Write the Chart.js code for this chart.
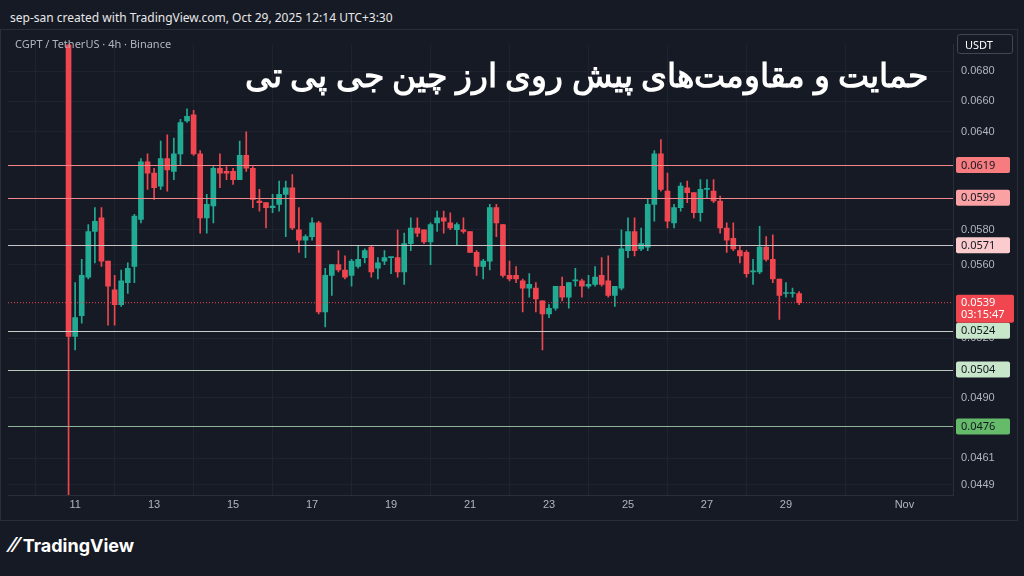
<!DOCTYPE html>
<html><head><meta charset="utf-8">
<script src="https://cdn.jsdelivr.net/npm/chart.js@4"></script>
<style>
html,body{margin:0;padding:0;background:#161a25;width:1024px;height:576px;overflow:hidden;font-family:"Noto Sans",Roboto,sans-serif}
#hdr{position:absolute;left:10px;top:9px;color:#e8e8e8;font-size:12px}
#frame{position:absolute;left:0;top:29px;width:1018px;height:492px;border:1px solid #2a2e39;box-sizing:border-box}
#wrap{position:absolute;left:0;top:30px;width:1018px;height:490px}
#sym{position:absolute;left:15px;top:36px;color:#b2b5be;font-size:11px}
#title{position:absolute;right:96px;top:52px;color:#fff;font-size:32.5px;font-weight:600;font-family:"Noto Sans",sans-serif;direction:rtl;white-space:nowrap}
#usdt{position:absolute;left:957px;top:34px;width:56px;height:20px;border:1px solid #434651;border-radius:3px;color:#fff;font-size:11px;line-height:20px;text-align:left;padding-left:7px;box-sizing:border-box}
#logo{position:absolute;left:10px;top:533px;color:#fff;font-size:18px;font-weight:bold;font-family:Inter,sans-serif}
</style></head><body>
<div id="hdr">sep-san created with TradingView.com, Oct 29, 2025 12:14 UTC+3:30</div>
<div id="frame"></div>
<div id="wrap"><canvas id="c"></canvas></div>
<div id="sym">CGPT / TetherUS · 4h · Binance</div>
<div id="title">حمایت و مقاومت‌های پیش روی ارز چین جی پی تی</div>
<div id="usdt">USDT</div>
<div id="logo"><span style="font-size:20px">⁄⁄</span> TradingView</div>
<script>
const startDay = 10.8333;
const opens=[.0720,.0521,.0532,.0553,.0579,.0587,.0562,.0546,.0538,.0550,.0559,.0586,.0621,.0614,.0606,.0623,.0615,.0626,.0647,.0651,.0626,.0587,.0594,.0617,.0615,.0615,.0610,.0625,.0617,.0597,.0596,.0593,.0595,.0601,.0605,.0580,.0574,.0576,.0584,.0534,.0554,.0560,.0557,.0554,.0559,.0564,.0570,.0558,.0562,.0564,.0564,.0556,.0572,.0581,.0580,.0573,.0584,.0587,.0584,.0580,.0580,.0579,.0567,.0559,.0562,.0593,.0583,.0554,.0554,.0551,.0547,.0547,.0540,.0533,.0536,.0548,.0542,.0551,.0551,.0548,.0549,.0554,.0551,.0543,.0547,.0568,.0579,.0569,.0570,.0595,.0626,.0603,.0584,.0593,.0605,.0602,.0590,.0604,.0603,.0597,.0581,.0575,.0568,.0567,.0556,.0556,.0570,.0563,.0552,.0544,.0544,.0544];
const highs=[.0760,.0550,.0563,.0583,.0593,.0593,.0562,.0554,.0557,.0561,.0589,.0623,.0626,.0617,.0634,.0638,.0636,.0648,.0655,.0654,.0628,.0601,.0618,.0626,.0618,.0617,.0634,.0640,.0618,.0604,.0596,.0601,.0609,.0609,.0613,.0593,.0577,.0587,.0585,.0558,.0560,.0568,.0565,.0563,.0571,.0569,.0571,.0564,.0568,.0564,.0580,.0578,.0587,.0587,.0580,.0584,.0591,.0591,.0590,.0584,.0587,.0579,.0568,.0563,.0595,.0595,.0583,.0562,.0559,.0552,.0555,.0550,.0540,.0538,.0548,.0553,.0550,.0558,.0552,.0554,.0559,.0564,.0565,.0548,.0580,.0587,.0587,.0581,.0598,.0628,.0635,.0614,.0595,.0608,.0609,.0602,.0610,.0610,.0610,.0600,.0584,.0584,.0571,.0568,.0563,.0582,.0576,.0577,.0552,.0550,.0547,.0545];
const lows=[.0430,.0514,.0528,.0552,.0561,.0559,.0527,.0527,.0537,.0544,.0550,.0584,.0604,.0598,.0604,.0603,.0610,.0619,.0646,.0625,.0578,.0578,.0584,.0605,.0610,.0607,.0610,.0615,.0593,.0591,.0581,.0590,.0591,.0576,.0580,.0567,.0564,.0574,.0533,.0526,.0543,.0556,.0552,.0548,.0558,.0561,.0553,.0552,.0560,.0555,.0553,.0549,.0568,.0576,.0572,.0560,.0579,.0578,.0580,.0571,.0578,.0567,.0554,.0552,.0557,.0576,.0553,.0551,.0550,.0534,.0542,.0534,.0514,.0531,.0535,.0540,.0536,.0548,.0542,.0547,.0548,.0548,.0542,.0537,.0546,.0564,.0565,.0568,.0568,.0585,.0603,.0581,.0581,.0591,.0596,.0587,.0585,.0599,.0596,.0578,.0567,.0568,.0561,.0553,.0549,.0555,.0562,.0550,.0530,.0542,.0542,.0538];
const closes=[.0521,.0531,.0554,.0579,.0585,.0562,.0548,.0538,.0551,.0558,.0588,.0621,.0614,.0605,.0623,.0616,.0626,.0646,.0650,.0626,.0587,.0595,.0617,.0614,.0614,.0610,.0625,.0617,.0598,.0596,.0593,.0594,.0601,.0605,.0581,.0574,.0576,.0584,.0534,.0554,.0560,.0557,.0553,.0562,.0563,.0568,.0556,.0561,.0564,.0564,.0556,.0572,.0581,.0578,.0573,.0583,.0587,.0585,.0581,.0583,.0579,.0567,.0559,.0562,.0593,.0584,.0554,.0552,.0552,.0547,.0549,.0541,.0533,.0536,.0548,.0542,.0550,.0551,.0548,.0549,.0553,.0549,.0543,.0548,.0569,.0579,.0568,.0572,.0595,.0626,.0604,.0585,.0593,.0606,.0602,.0590,.0604,.0604,.0597,.0581,.0574,.0569,.0565,.0555,.0556,.0570,.0563,.0552,.0543,.0544,.0544,.0539];
const yTicks=[0.0449,0.0461,0.0476,0.0490,0.0504,0.0520,0.0524,0.0539,0.0560,0.0571,0.0580,0.0599,0.0619,0.0640,0.0660,0.0680];
const xTicks=[11,13,15,17,19,21,23,25,27,29,32];
const xTickLabels=['11','13','15','17','19','21','23','25','27','29','Nov'];
const levels=[0.0619,0.0599,0.0571,0.0524,0.0504,0.0476];
const levelLine=['#f5868b','#f5868b','#c9c3c6','#c8cdc9','#b7c9bb','#8fb598'];
const levelBg=['#f77c80','#faa1a4','#fccbcd','#c8e6c9','#c8e6c9','#66bb6a'];
const lastPrice=0.0539, countdown='03:15:47';
const UP='#22ab94', DN='#f0464f';

const times=opens.map((_,i)=>startDay+i/6);
const isUp=i=>closes[i]>=opens[i];
const wick=times.map((t,i)=>({x:t,y:[lows[i],highs[i]]}));
const body=times.map((t,i)=>({x:t,y:[opens[i],closes[i]===opens[i]?closes[i]*1.0004:closes[i]]}));
const hiddenTicks=[0.0524,0.0539,0.0571,0.0599,0.0619,0.0476,0.0504];

const levelPlugin={id:'lv',afterDatasetsDraw(ch){
  const ctx=ch.ctx,y=ch.scales.y,a=ch.chartArea;
  ctx.save();
  levels.forEach((v,i)=>{const p=Math.round(y.getPixelForValue(v))+0.5;ctx.strokeStyle=levelLine[i];ctx.lineWidth=1.2;ctx.beginPath();ctx.moveTo(a.left,p);ctx.lineTo(a.right,p);ctx.stroke();});
  const pl=y.getPixelForValue(lastPrice);ctx.strokeStyle=DN;ctx.setLineDash([1,2]);ctx.lineWidth=1;ctx.beginPath();ctx.moveTo(a.left,pl);ctx.lineTo(a.right,pl);ctx.stroke();ctx.setLineDash([]);
  ctx.font='11px "Noto Sans",sans-serif';ctx.textBaseline='middle';
  levels.forEach((v,i)=>{const p=y.getPixelForValue(v);ctx.fillStyle=levelBg[i];ctx.beginPath();ctx.roundRect(a.right+3,p-8,54,16,2);ctx.fill();ctx.fillStyle='#131722';ctx.fillText(v.toFixed(4),a.right+8,p+0.5);});
  ctx.fillStyle=DN;ctx.beginPath();ctx.roundRect(a.right+3,pl-8,58,28,2);ctx.fill();ctx.fillStyle='#fff';ctx.fillText(lastPrice.toFixed(4),a.right+8,pl);ctx.fillText(countdown,a.right+8,pl+12);
  ctx.restore();
}};

new Chart(document.getElementById('c'),{
  type:'bar',
  data:{datasets:[
    {data:wick,barThickness:1,backgroundColor:wick.map((_,i)=>isUp(i)?UP:DN),grouped:false},
    {data:body,barThickness:5,backgroundColor:body.map((_,i)=>isUp(i)?UP:DN),grouped:false,minBarLength:1}
  ]},
  options:{responsive:true,maintainAspectRatio:false,animation:false,
    layout:{padding:{left:8,top:0,right:0,bottom:0}},
    plugins:{legend:{display:false},tooltip:{enabled:false}},
    scales:{
      x:{type:'linear',min:9.30,max:33.23,offset:false,
        afterBuildTicks:s=>{s.ticks=xTicks.map(v=>({value:v}));},
        ticks:{color:'#b2b5be',font:{size:11},maxRotation:0,autoSkip:false,callback:(v)=>xTickLabels[xTicks.indexOf(v)]},
        grid:{color:'#1f2330',drawTicks:false},border:{color:'#2a2e39'},
        afterFit:s=>{s.height=25;}},
      y:{type:'logarithmic',position:'right',min:0.04443,max:0.06986,
        afterBuildTicks:s=>{s.ticks=yTicks.map(v=>({value:v}));},
        ticks:{color:'#b2b5be',font:{size:11},padding:8,autoSkip:false,callback:v=>hiddenTicks.includes(v)?'':v.toFixed(4)},
        grid:{color:c=>hiddenTicks.includes(c.tick&&c.tick.value)?'transparent':'#1f2330',drawTicks:false},border:{color:'#2a2e39'},
        afterFit:s=>{s.width=65;}}
    }},
  plugins:[levelPlugin]
});
</script></body></html>
